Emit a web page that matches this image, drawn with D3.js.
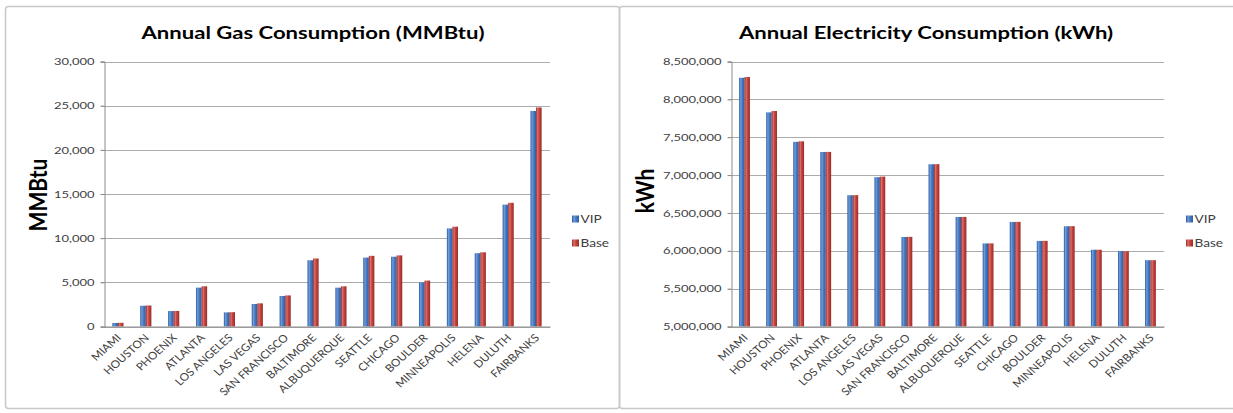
<!DOCTYPE html>
<html>
<head>
<meta charset="utf-8">
<script src="https://cdn.jsdelivr.net/npm/d3@7"></script>
<style>
  html, body { margin: 0; padding: 0; background: #fff; }
  svg { display: block; font-family: Lato, "Open Sans", sans-serif; }
</style>
</head>
<body>
<svg id="chart" width="1233" height="413"></svg>
<script>
// Cities, in plotting order
const cities = ["MIAMI", "HOUSTON", "PHOENIX", "ATLANTA", "LOS ANGELES", "LAS VEGAS",
  "SAN FRANCISCO", "BALTIMORE", "ALBUQUERQUE", "SEATTLE", "CHICAGO", "BOULDER",
  "MINNEAPOLIS", "HELENA", "DULUTH", "FAIRBANKS"];

const seriesNames = ["VIP", "Base"];

// Annual gas consumption, MMBtu
const gasVIP  = [400, 2350, 1750, 4400, 1600, 2550, 3450, 7500, 4400, 7800, 7900, 5000, 11100, 8300, 13800, 24400];
const gasBase = [420, 2380, 1760, 4550, 1620, 2620, 3520, 7700, 4550, 8000, 8050, 5200, 11300, 8400, 14000, 24800];
const gasTicks = [0, 5000, 10000, 15000, 20000, 25000, 30000];

// Annual electricity consumption, kWh
const elecVIP  = [8285000, 7828000, 7439000, 7305000, 6734000, 6972000, 6182000, 7143000,
  6446000, 6097000, 6381000, 6130000, 6324000, 6014000, 5998000, 5876000];
const elecBase = [8295000, 7846000, 7446000, 7306000, 6735000, 6980000, 6184000, 7144000,
  6447000, 6098000, 6382000, 6131000, 6325000, 6014000, 5994000, 5876000];
const elecTicks = [5000000, 5500000, 6000000, 6500000, 7000000, 7500000, 8000000, 8500000];

const svg = d3.select("#chart");
const fmt = d3.format(",");

// The whole figure is drawn a little wide: text is stretched horizontally
const SX = 1.3;

// Cylinder-like shading for the bars
const defs = svg.append("defs");
function shade(id, stops) {
  const g = defs.append("linearGradient").attr("id", id)
    .attr("x1", "0%").attr("x2", "100%").attr("y1", "0%").attr("y2", "0%");
  stops.forEach(([o, c]) => g.append("stop").attr("offset", o).attr("stop-color", c));
}
shade("gVIP",  [["0%", "#2b5797"], ["30%", "#6e9de0"], ["55%", "#4a7cc2"], ["100%", "#2e5c9d"]]);
shade("gBase", [["0%", "#962b28"], ["30%", "#e0706c"], ["55%", "#c3433f"], ["100%", "#9a2e2b"]]);
const fills = { VIP: "url(#gVIP)", Base: "url(#gBase)" };

// Panel frames
svg.append("rect").attr("x", 5.5).attr("y", 6.5).attr("width", 614).attr("height", 402)
  .attr("rx", 3).attr("fill", "none").attr("stroke", "#c8c8c8").attr("stroke-width", 1.5);
svg.append("rect").attr("x", 619.5).attr("y", 6.5).attr("width", 630).attr("height", 402)
  .attr("rx", 3).attr("fill", "none").attr("stroke", "#c8c8c8").attr("stroke-width", 1.5);

function drawPanel(cfg) {
  const g = svg.append("g");

  const y = d3.scaleLinear().domain(cfg.domain).range([326.5, 61.5]);
  const x0 = d3.scaleBand().domain(cities).range(cfg.xRange)
    .paddingInner(0.6).paddingOuter(0.3);
  const x1 = d3.scaleBand().domain(seriesNames).range([0, x0.bandwidth()]).padding(0);

  // Horizontal gridlines
  g.append("g").selectAll("line").data(cfg.ticks).join("line")
    .attr("x1", cfg.xRange[0] - 3).attr("x2", cfg.xRange[1])
    .attr("y1", d => Math.round(y(d)) + 0.5).attr("y2", d => Math.round(y(d)) + 0.5)
    .attr("stroke", "#ababab").attr("stroke-width", 1);

  // Y axis
  const yAxis = g.append("g").attr("transform", `translate(${cfg.xRange[0] + 0.5},0)`)
    .call(d3.axisLeft(y).tickValues(cfg.ticks).tickFormat(fmt).tickSize(4).tickPadding(6));
  yAxis.select(".domain").attr("stroke", "#8c8c8c");
  yAxis.selectAll(".tick line").attr("stroke", "#8c8c8c");
  yAxis.selectAll("text")
    .attr("x", 0)
    .attr("transform", `translate(-10,0) scale(${SX},1)`)
    .attr("fill", "#404040").style("font-size", "10px")
    .style("font-family", "Lato, sans-serif");

  // Bars
  const data = cities.map((c, i) => ({ city: c, VIP: cfg.vip[i], Base: cfg.base[i] }));
  g.append("g").selectAll("g").data(data).join("g")
    .attr("transform", d => `translate(${x0(d.city)},0)`)
    .selectAll("rect").data(d => seriesNames.map(s => ({ key: s, value: d[s] }))).join("rect")
    .attr("x", d => x1(d.key))
    .attr("width", x1.bandwidth())
    .attr("y", d => y(d.value))
    .attr("height", d => y(cfg.domain[0]) - y(d.value))
    .attr("fill", d => fills[d.key]);

  // X axis
  const xAxis = g.append("g").attr("transform", `translate(0,${326.5})`)
    .call(d3.axisBottom(x0).tickSize(0).tickPadding(0));
  xAxis.select(".domain").attr("stroke", "#8c8c8c");
  xAxis.selectAll("text")
    .attr("text-anchor", "end")
    .attr("dy", 0).attr("y", 0)
    .attr("transform", "translate(4,12) scale(1.12,1) rotate(-45)")
    .attr("fill", "#404040").style("font-size", "10.5px")
    .style("font-family", "Lato, sans-serif");

  // Chart title
  g.append("text")
    .attr("transform", `translate(${cfg.titleX},39) scale(${SX},1)`)
    .attr("text-anchor", "middle").attr("font-weight", "bold")
    .style("font-size", "17px").attr("fill", "#000").text(cfg.title);

  // Y axis title
  g.append("text")
    .attr("transform", `translate(${cfg.yTitleX},${cfg.yTitleY}) scale(1.15,1) rotate(-90)`)
    .attr("text-anchor", "middle").attr("dominant-baseline", "central")
    .attr("font-weight", "bold").style("font-size", "21px").attr("fill", "#000")
    .text(cfg.yTitle);

  // Legend
  const leg = g.append("g").selectAll("g").data(seriesNames).join("g")
    .attr("transform", (d, i) => `translate(${cfg.legendX},${219 + i * 24})`);
  leg.append("rect").attr("x", 0).attr("y", -3.5).attr("width", 7).attr("height", 7)
    .attr("fill", d => fills[d]);
  leg.append("text")
    .attr("transform", `translate(8.5,0) scale(${SX},1)`)
    .attr("dominant-baseline", "central")
    .style("font-size", "10.5px").attr("fill", "#404040").text(d => d);
}

drawPanel({
  title: "Annual Gas Consumption (MMBtu)", titleX: 313,
  yTitle: "MMBtu", yTitleX: 38, yTitleY: 195,
  domain: [0, 30000], ticks: gasTicks,
  vip: gasVIP, base: gasBase,
  xRange: [104, 550], legendX: 572
});

drawPanel({
  title: "Annual Electricity Consumption (kWh)", titleX: 926,
  yTitle: "kWh", yTitleX: 645, yTitleY: 191,
  domain: [5000000, 8500000], ticks: elecTicks,
  vip: elecVIP, base: elecBase,
  xRange: [731, 1164], legendX: 1186
});
</script>
</body>
</html>
